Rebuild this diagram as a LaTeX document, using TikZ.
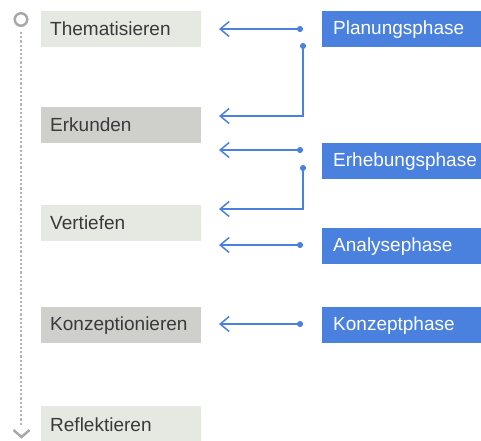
\documentclass[tikz,border=0pt]{standalone}
\usepackage{fontspec}
\setmainfont{Liberation Sans}
\usetikzlibrary{arrows.meta}
\definecolor{lightbox}{HTML}{E6E8E2}
\definecolor{darkbox}{HTML}{CFD0CC}
\definecolor{phaseblue}{HTML}{4A80DE}
\definecolor{txtgray}{HTML}{3A3A3A}
\definecolor{linegray}{HTML}{A8A8A8}
\tikzset{
  stagebox/.style={anchor=north west, inner xsep=9pt, inner ysep=0pt, minimum height=36pt,
    text width=142pt, align=left, text=txtgray, font=\fontsize{19}{21}\selectfont},
  lightstage/.style={stagebox, fill=lightbox},
  darkstage/.style={stagebox, fill=darkbox},
  phasebox/.style={anchor=north west, inner xsep=11pt, inner ysep=0pt, minimum height=36pt,
    text width=137pt, align=left, fill=phaseblue, text=white, font=\fontsize{19}{21}\selectfont},
  conn/.style={draw=phaseblue, line width=1.5pt,
    {Circle[length=6pt,width=6pt]}-{Straight Barb[length=9pt,width=15pt,line width=1.5pt]}},
}
\begin{document}
\begin{tikzpicture}[x=1pt,y=-1pt]
\useasboundingbox (0,0) rectangle (481,440);
% timeline
\node[draw=linegray, line width=2.5pt, circle, minimum size=12.5pt, inner sep=0pt, fill=white] (start) at (21,19.5) {};
\coordinate (tlend) at (21,426);
\draw[linegray!85, line width=2.2pt, dash pattern=on 2.2pt off 2pt] ([yshift=-5pt]start.south) -- (tlend);
\draw[linegray, line width=2.5pt] (13.5,430) -- (21.5,437) -- (29.5,430);
% stages
\node[lightstage] (them) at (41,11) {Thematisieren};
\node[darkstage] (erk) at (41,107) {Erkunden};
\node[lightstage] (vert) at (41,205) {Vertiefen};
\node[darkstage] (konz) at (41,307) {Konzeptionieren};
\node[lightstage] (refl) at (41,406) {Reflektieren};
% phases
\node[phasebox] (plan) at (322,11) {Planungsphase};
\node[phasebox] (erh) at (322,143) {Erhebungsphase};
\node[phasebox] (ana) at (322,228) {Analysephase};
\node[phasebox] (kph) at (322,307) {Konzeptphase};
% connector coordinates
\coordinate (p1) at (303,29);
\coordinate (t1) at (219,29);
\coordinate (p2) at (303,43);
\coordinate (t2) at (219,116);
\coordinate (p3) at (303,150);
\coordinate (t3) at (219,150);
\coordinate (p4) at (303,165);
\coordinate (t4) at (219,209);
\coordinate (p5) at (303,245);
\coordinate (t5) at (219,245);
\coordinate (p6) at (303,324);
\coordinate (t6) at (219,324);
\draw[conn] (p1) -- (t1);
\draw[conn] (p2) |- (t2);
\draw[conn] (p3) -- (t3);
\draw[conn] (p4) |- (t4);
\draw[conn] (p5) -- (t5);
\draw[conn] (p6) -- (t6);
\end{tikzpicture}
\end{document}
